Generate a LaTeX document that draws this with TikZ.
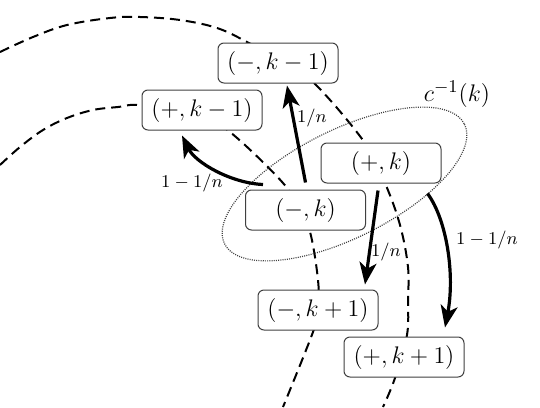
\documentclass[tikz,border=0pt]{standalone}
\usetikzlibrary{arrows.meta,calc}
\begin{document}
\begin{tikzpicture}[x=0.5pt,y=-0.5pt,
  state/.style={draw=black!75, line width=0.5pt, rounded corners=3pt, fill=white,
    minimum width=60pt, minimum height=20pt, inner sep=0pt, font=\fontsize{11.7}{14}\selectfont},
  prob/.style={font=\fontsize{9.3}{11}\selectfont, inner sep=0pt},
  trans/.style={line width=1.6pt, -{Stealth[length=11pt,width=8.5pt,inset=3pt]}},
  orbit/.style={line width=1pt, dash pattern=on 5pt off 3pt},
  fibre/.style={black!75, line width=0.6pt, dash pattern=on 0.5pt off 0.6pt}
]
\useasboundingbox (0,0) rectangle (540,407);
% dashed orbits
\draw[orbit] plot[smooth, tension=0.6] coordinates {(0,52) (33,37) (67,25) (110,18) (140,17) (180,20) (217,28) (247,42) (282,62) (315,84) (365,143) (385,183) (400,225) (408,267) (408,300) (407,335) (395,378) (383,407)};
\draw[orbit] plot[smooth, tension=0.6] coordinates {(0,165) (20,147) (43,130) (67,118) (93,110) (118,107) (140,105) (195,112) (230,132) (283,183) (298,210) (310,232) (318,280) (318,310) (313,332) (283,407)};
% dotted ellipse c^{-1}(k)
\draw[fibre] plot[domain=0:360, samples=145]
  ({344.5 + 134*cos(\x)*cos(26.5) + 54*sin(\x)*sin(26.5)},
   {184 - 134*cos(\x)*sin(26.5) + 54*sin(\x)*cos(26.5)}) -- cycle;
\node[inner sep=0pt, font=\fontsize{12.5}{15}\selectfont] (cl) at (457,94) {$c^{-1}(k)$};
% states
\node[state] (mk1) at (278,63)  {$(-,k-1)$};
\node[state] (pk1) at (202,110) {$(+,k-1)$};
\node[state] (pk)  at (381,163) {$(+,k)$};
\node[state] (mk)  at (305.5,210) {$(-,k)$};
\node[state] (mk2) at (318,310) {$(-,k+1)$};
\node[state] (pk2) at (404,357) {$(+,k+1)$};
% transitions
\draw[trans] ($(mk.north)+(0,-7)$) -- ($(mk1.south)+(9,2)$);
\node[prob] (l1) at (312,118) {$1/n$};
\draw[trans] ($(mk.north west)+(18,-5)$) .. controls (230,183) and (195,162) .. ($(pk1.south)+(-20,5)$);
\node[prob] (l2) at (192,183) {$1-1/n$};
\draw[trans] ($(pk.south)+(-3,7)$) -- ($(mk2.north)+(47,-5)$);
\node[prob] (l3) at (386,252) {$1/n$};
\draw[trans] ($(pk.south east)+(-14,10)$) .. controls (447,220) and (455,275) .. ($(pk2.north)+(41,-9)$);
\node[prob] (l4) at (487,240) {$1-1/n$};
\end{tikzpicture}
\end{document}
